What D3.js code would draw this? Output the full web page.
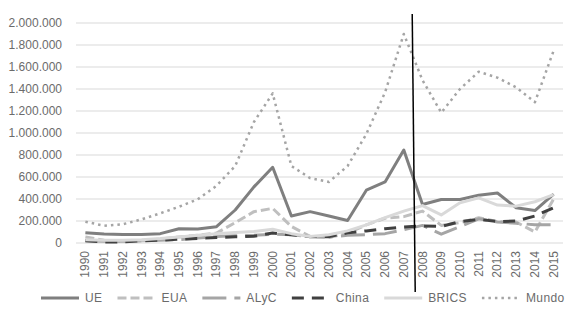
<!DOCTYPE html>
<html>
<head>
<meta charset="UTF-8">
<script src="https://d3js.org/d3.v7.min.js"></script>
<style>
  body { margin: 0; background: #fff; }
  text { font-family: "Liberation Sans", Arial, sans-serif; fill: #6b6b6b; }
</style>
</head>
<body>
<svg id="canvas"></svg>
<script>
  // data (units)
  years = d3.range(1990, 2016).map(String);
  ue    = [94000, 82000, 78000, 78000, 85000, 130000, 128000, 148000, 300000, 510000, 688000, 245000, 285000, 245000, 205000, 480000, 555000, 845000, 350000, 395000, 395000, 435000, 455000, 320000, 295000, 445000];
  eua   = [55000, 25000, 15000, 20000, 35000, 55000, 70000, 90000, 185000, 285000, 315000, 150000, 60000, 50000, 90000, 165000, 225000, 240000, 290000, 160000, 185000, 230000, 195000, 190000, 100000, 400000];
  alyc  = [20000, 15000, 15000, 20000, 25000, 30000, 45000, 60000, 65000, 70000, 80000, 75000, 55000, 55000, 70000, 75000, 85000, 120000, 160000, 80000, 150000, 220000, 190000, 180000, 165000, 165000];
  china = [20000, 10000, 10000, 20000, 25000, 35000, 42000, 50000, 57000, 62000, 90000, 75000, 58000, 58000, 92000, 110000, 130000, 145000, 155000, 150000, 195000, 215000, 195000, 200000, 245000, 320000];
  brics = [30000, 25000, 25000, 30000, 40000, 55000, 70000, 85000, 95000, 105000, 125000, 85000, 60000, 75000, 110000, 165000, 230000, 290000, 340000, 255000, 365000, 410000, 345000, 335000, 375000, 440000];
  mundo = [194000, 157000, 170000, 215000, 270000, 330000, 397000, 520000, 700000, 1100000, 1360000, 700000, 590000, 555000, 700000, 990000, 1370000, 1900000, 1480000, 1185000, 1400000, 1557000, 1503000, 1415000, 1280000, 1748000];
  yTicks = d3.range(0, 2000001, 200000);
  markYear = 2007.45;   // vertical marker between 2007 and 2008

  width = 571;
  height = 320;
  margin = {left: 76, right: 8, top: 23, bottom: 77};

  series = [
    {name: "UE",    values: ue,    color: "#7f7f7f", dash: null,    w: 3},
    {name: "EUA",   values: eua,   color: "#bfbfbf", dash: "9,4",   w: 3},
    {name: "ALyC",  values: alyc,  color: "#a5a5a5", dash: "24,8",  w: 3},
    {name: "China", values: china, color: "#404040", dash: "12,8",  w: 3},
    {name: "BRICS", values: brics, color: "#d9d9d9", dash: null,    w: 3},
    {name: "Mundo", values: mundo, color: "#a5a5a5", dash: "2.5,4", w: 2.5}
  ];

  svg = d3.select("#canvas").attr("width", width).attr("height", height);

  x = d3.scaleBand().domain(years).range([margin.left, width - margin.right]);
  y = d3.scaleLinear().domain([0, 2000000]).range([height - margin.bottom, margin.top]);
  fmt = v => d3.format(",")(v).replace(/,/g, ".");

  // gridlines
  svg.append("g").selectAll("line")
    .data(yTicks)
    .enter().append("line")
      .attr("x1", x.range()[0]).attr("x2", x.range()[1])
      .attr("y1", d => y(d)).attr("y2", d => y(d))
      .attr("stroke", "#d9d9d9").attr("stroke-width", 1);

  // y labels
  svg.append("g").selectAll("text")
    .data(yTicks)
    .enter().append("text")
      .attr("x", 62).attr("y", d => y(d) + 4)
      .attr("text-anchor", "end")
      .style("font-size", "12px")
      .text(d => fmt(d));

  // x labels, rotated
  svg.append("g").selectAll("text")
    .data(years)
    .enter().append("text")
      .attr("transform", d => "translate(" + (x(d) + x.bandwidth() / 2 + 4) + "," + 251 + ") rotate(-90)")
      .attr("text-anchor", "end")
      .style("font-size", "12px")
      .text(d => d);

  line = d3.line()
    .x((d, i) => x(years[i]) + x.bandwidth() / 2)
    .y(d => y(d));

  svg.append("g").selectAll("path")
    .data(series)
    .enter().append("path")
      .attr("d", d => line(d.values))
      .attr("fill", "none")
      .attr("stroke", d => d.color)
      .attr("stroke-width", d => d.w)
      .attr("stroke-dasharray", d => d.dash)
      .attr("stroke-linejoin", "round");

  // marker line
  xm = d3.scaleLinear().domain([1990, 2015])
    .range([x("1990") + x.bandwidth() / 2, x("2015") + x.bandwidth() / 2]);
  svg.append("line")
    .attr("x1", xm(markYear)).attr("y1", 14)
    .attr("x2", xm(markYear) + 3).attr("y2", 292)
    .attr("stroke", "#000").attr("stroke-width", 1.5);

  // legend
  legend = svg.append("g");
  lx = 41;
  ly = 302;
  series.forEach(s => {
    legend.append("line")
      .attr("x1", lx).attr("x2", lx + 38)
      .attr("y1", ly - 4).attr("y2", ly - 4)
      .attr("stroke", s.color).attr("stroke-width", s.w)
      .attr("stroke-dasharray", s.dash);
    t = legend.append("text")
      .attr("x", lx + 44).attr("y", ly)
      .style("font-size", "12px")
      .style("letter-spacing", "0.4px")
      .text(s.name);
    lx += 44 + t.node().getComputedTextLength() + 15;
  });
</script>
</body>
</html>
